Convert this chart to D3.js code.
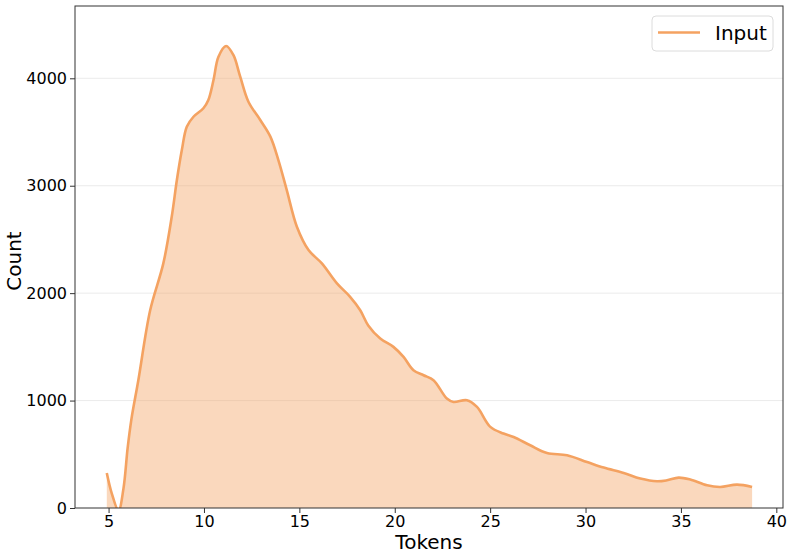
<!DOCTYPE html>
<html><head><meta charset="utf-8">
<script src="https://cdn.jsdelivr.net/npm/d3@7"></script>
<style>body{margin:0;background:#fff}svg{display:block}</style>
</head><body>
<svg id="c" width="793" height="558"></svg>
<script>
const tokens = [4.906,5.17,5.52,5.78,6.0,6.2,6.56,7.18,7.87,8.31,8.58,8.84,9.10,9.45,9.97,10.23,10.50,10.76,11.16,11.54,11.90,12.33,12.95,13.48,13.90,14.34,14.87,15.48,16.18,16.97,17.66,18.19,18.61,19.24,19.93,20.46,20.98,21.51,22.03,22.73,23.08,23.78,24.31,25.01,25.70,26.23,27.10,27.98,29.03,30.08,30.95,32.00,32.87,33.75,34.27,34.88,35.49,36.37,37.06,37.94,38.73];
const counts = [326,134,-25,180,560,830,1190,1841,2277,2711,3053,3332,3549,3642,3721,3798,3984,4201,4301,4217,4015,3782,3612,3457,3239,2959,2618,2401,2277,2091,1966,1841,1700,1578,1500,1407,1283,1236,1190,1019,987,1003,941,755,693,661,584,512,491,428,376,326,274,249,258,283,265,211,196,218,196];
const xTicks = [5,10,15,20,25,30,35,40];
const yTicks = [0,1000,2000,3000,4000];
const seriesName = "Input";

const svg = d3.select("#c");
const L=75,R=783,T=6,B=508;
const x = d3.scaleLinear().domain([3.24,40.35]).range([L,R]);
const y = d3.scaleLinear().domain([0,4673]).range([B,T]);
const data = tokens.map((t,i)=>({t,c:counts[i]}));
const col = "#f4a261";
const font = "DejaVu Sans, sans-serif";

svg.append("defs").append("clipPath").attr("id","cp").append("rect")
  .attr("x",L).attr("y",T).attr("width",R-L).attr("height",B-T);

// grid
svg.append("g").selectAll("line").data(yTicks.slice(1)).join("line")
  .attr("x1",L).attr("x2",R).attr("y1",d=>y(d)).attr("y2",d=>y(d))
  .attr("stroke","#e6e6e6").attr("stroke-width",0.8);

const g = svg.append("g").attr("clip-path","url(#cp)");
const curve = d3.curveCatmullRom.alpha(0.5);
g.append("path").datum(data)
  .attr("d",d3.area().x(d=>x(d.t)).y0(y(0)).y1(d=>y(Math.max(0,d.c))).curve(curve))
  .attr("fill",col).attr("fill-opacity",0.42);
g.append("path").datum(data)
  .attr("d",d3.line().x(d=>x(d.t)).y(d=>y(d.c)).curve(curve))
  .attr("fill","none").attr("stroke",col).attr("stroke-width",2.6);

// axes
const xa = svg.append("g").attr("transform",`translate(0,${B})`)
  .call(d3.axisBottom(x).tickValues(xTicks).tickSize(5).tickPadding(2.5).tickFormat(d3.format("d")));
const ya = svg.append("g").attr("transform",`translate(${L},0)`)
  .call(d3.axisLeft(y).tickValues(yTicks).tickSize(5).tickPadding(3).tickFormat(d3.format("d")));
[xa,ya].forEach(a=>{
  a.select(".domain").remove();
  a.selectAll("line").attr("stroke","#333").attr("stroke-width",1);
  a.selectAll("text").attr("font-family",font).attr("font-size",16).attr("fill","#000");
});
svg.append("rect").attr("x",L).attr("y",T).attr("width",R-L).attr("height",B-T)
  .attr("fill","none").attr("stroke","#333").attr("stroke-width",1);

svg.append("text").attr("x",(L+R)/2).attr("y",548.5).attr("text-anchor","middle")
  .attr("font-family",font).attr("font-size",20).text("Tokens");
svg.append("text").attr("transform",`translate(21,261) rotate(-90)`).attr("text-anchor","middle")
  .attr("font-family",font).attr("font-size",20).text("Count");

// legend
const lg = svg.append("g");
lg.append("rect").attr("x",652).attr("y",16).attr("width",121).attr("height",35).attr("rx",4)
  .attr("fill","#fff").attr("fill-opacity",0.8).attr("stroke","#dcdcdc");
lg.append("line").attr("x1",658).attr("x2",700).attr("y1",32.5).attr("y2",32.5)
  .attr("stroke",col).attr("stroke-width",2.6);
lg.append("text").attr("x",715).attr("y",39.5).attr("font-family",font).attr("font-size",20).text(seriesName);
</script>
</body></html>
